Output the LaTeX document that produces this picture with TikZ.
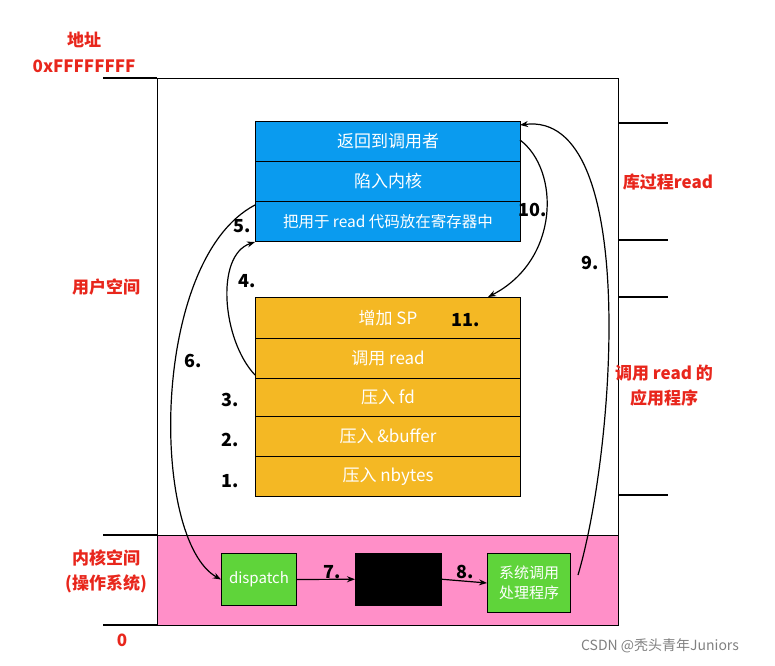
\documentclass[tikz,border=0pt]{standalone}
\usepackage{fontspec}
\setmainfont{Noto Sans CJK SC}
\usetikzlibrary{arrows.meta}
\definecolor{bl}{HTML}{0A9BEF}
\definecolor{og}{HTML}{F4B824}
\definecolor{pk}{HTML}{FF8FC8}
\definecolor{gr}{HTML}{5FD43A}
\definecolor{rd}{HTML}{E8261C}
\tikzset{
  bbox/.style={draw=black,line width=1pt,fill=bl,text=white,font=\fontsize{17}{19}\selectfont},
  obox/.style={draw=black,line width=1pt,fill=og,text=white,font=\fontsize{17}{19}\selectfont},
  gbox/.style={draw=black,line width=1pt,fill=gr,text=white,font=\fontsize{15}{20}\selectfont,align=center},
  lab/.style={text=rd,font=\bfseries\fontsize{17}{25}\selectfont,align=center},
  num/.style={font=\bfseries\fontsize{18}{20}\selectfont},
  arr/.style={-{Stealth[length=8pt]},line width=1.2pt}
}
\begin{document}
\begin{tikzpicture}[x=1pt,y=-1pt]
\useasboundingbox (0,0) rectangle (775,665);
\fill[pk] (157,535) rectangle (618,625);
\draw[line width=1pt] (157,78) rectangle (618,625);
\draw[line width=1pt] (157,535) -- (618,535);
\foreach \y in {78,535,625} \draw[line width=1.2pt] (103,\y) -- (157,\y);
\foreach \y in {123,240,297,495} \draw[line width=1.2pt] (618,\y) -- (668,\y);
% blue
\node[bbox,minimum width=265pt,minimum height=40pt,anchor=north west] (b1) at (255,121) {返回到调用者};
\node[bbox,minimum width=265pt,minimum height=40pt,anchor=north west] (b2) at (255,161) {陷入内核};
\node[bbox,minimum width=265pt,minimum height=40pt,anchor=north west,font=\fontsize{15.5}{17}\selectfont] (b3) at (255,201) {把用于 read 代码放在寄存器中};
% orange
\node[obox,minimum width=265pt,minimum height=41pt,anchor=north west] (o1) at (255,297) {增加 SP};
\node[obox,minimum width=265pt,minimum height=40pt,anchor=north west] (o2) at (255,338) {调用 read};
\node[obox,minimum width=265pt,minimum height=38pt,anchor=north west] (o3) at (255,378) {压入 fd};
\node[obox,minimum width=265pt,minimum height=40pt,anchor=north west] (o4) at (255,416) {压入 \&buffer};
\node[obox,minimum width=265pt,minimum height=40pt,anchor=north west] (o5) at (255,456) {压入 nbytes};
% green/black
\node[gbox,minimum width=75pt,minimum height=52pt,anchor=north west] (d) at (221,553) {dispatch};
\node[draw=black,fill=black,minimum width=86pt,minimum height=52pt,anchor=north west] (k) at (355,553) {};
\node[gbox,minimum width=83pt,minimum height=59pt,anchor=north west,inner sep=2pt] (h) at (487,553) {系统调用\\处理程序};
\draw[arr] (d.east) -- (k.west);
\draw[arr] (k.east) -- (h.west);
% curved arrows
\coordinate (a4s) at (255,375);
\draw[arr] (a4s) .. controls (222,340) and (215,255) .. (b3.south west);
\coordinate (a6s) at (255,205);
\draw[arr] (a6s) .. controls (150,260) and (150,540) .. (d.west);
\coordinate (a9s) at (578,575);
\coordinate (a9e) at (520,125);
\draw[arr] (a9s) .. controls (615,450) and (640,110) .. (a9e);
\coordinate (a10s) at (520,140);
\coordinate (a10e) at (488,297);
\draw[arr] (a10s) .. controls (560,170) and (560,260) .. (a10e);
% numbers
\node[num] (n1) at (230,481) {1.};
\node[num] (n2) at (230,440) {2.};
\node[num] (n3) at (230,400) {3.};
\node[num] (n4) at (247,281) {4.};
\node[num] (n5) at (242,226) {5.};
\node[num] (n6) at (193,361) {6.};
\node[num] (n7) at (332,572) {7.};
\node[num] (n8) at (465,572) {8.};
\node[num] (n9) at (590,263) {9.};
\node[num] (n10) at (533,210) {10.};
\node[num] (n11) at (466,320) {11.};
% labels
\node[lab] (l1) at (84,40) {地址};
\node[lab] (l2) at (84,66) {0xFFFFFFFF};
\node[lab] (l3) at (106,287) {用户空间};
\node[lab] (l4) at (106,571) {内核空间\\(操作系统)};
\node[lab] (l5) at (122,640) {0};
\node[lab] (l6) at (668,182) {库过程read};
\node[lab] (l7) at (664,386) {调用 read 的\\应用程序};
\node[text=gray,font=\fontsize{14}{16}\selectfont] (wm) at (660,646) {CSDN @秃头青年Juniors};
\end{tikzpicture}
\end{document}
